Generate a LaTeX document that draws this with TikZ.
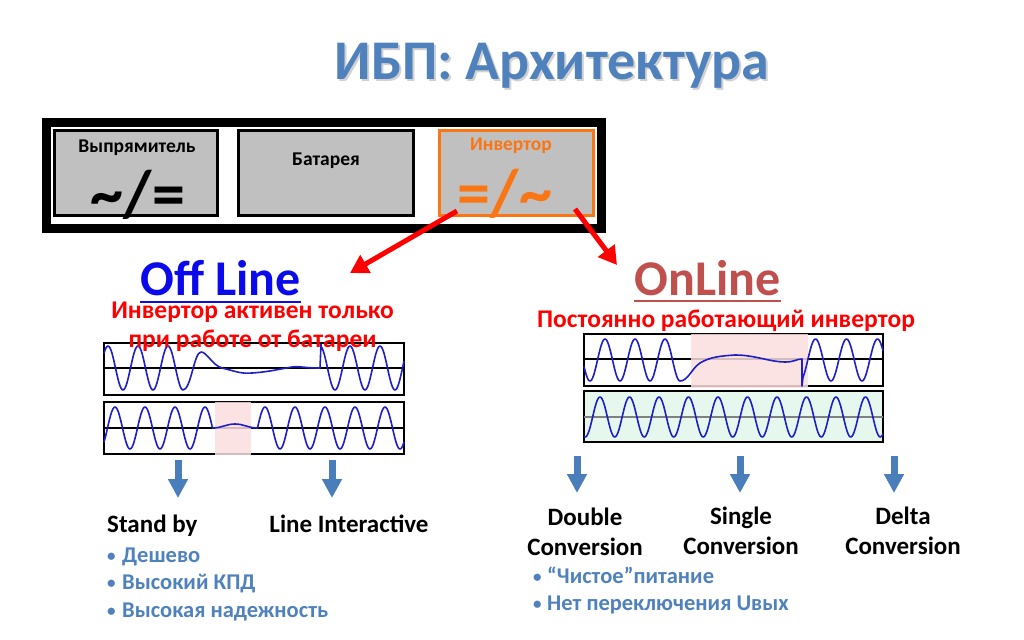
\documentclass[tikz,border=0pt]{standalone}
\usepackage{fontspec}
\setmainfont{Carlito}
\usetikzlibrary{arrows.meta,calc}
\definecolor{titleblue}{RGB}{79,129,189}
\definecolor{boxgray}{RGB}{192,192,192}
\definecolor{invorange}{RGB}{250,118,20}
\definecolor{offblue}{RGB}{10,10,235}
\definecolor{onrose}{RGB}{192,80,77}
\definecolor{wavecol}{RGB}{30,30,200}
\definecolor{pinkfill}{RGB}{250,222,222}
\definecolor{greenfill}{RGB}{230,248,238}
\definecolor{arrowblue}{RGB}{74,126,187}
\begin{document}
\begin{tikzpicture}[x=1pt,y=-1pt,
  txt/.style={inner sep=0pt, anchor=base, font=\bfseries},
  unitbox/.style={draw=black, line width=3pt, fill=boxgray},
  wbox/.style={draw=black, line width=1.6pt},
  wave/.style={draw=wavecol, line width=1.6pt, line join=round},
  midline/.style={draw=black, line width=1.2pt},
  rarrow/.style={draw=red, line width=5pt, -{Triangle[width=20pt,length=18pt]}},
  barrow/.style={draw=arrowblue, line width=7pt, -{Triangle[width=19pt,length=19pt]}},
  bul/.style={inner sep=0pt, anchor=base west, text=titleblue, font=\bfseries\fontsize{22.5}{26}\selectfont},
  dot/.style={inner sep=0pt, anchor=base west, text=titleblue, font=\bfseries\fontsize{17}{20}\selectfont}
]
\useasboundingbox (0,0) rectangle (1024,639);
% title
\node[txt, text=black, opacity=0.18, font=\bfseries\fontsize{56}{64}\selectfont] at (554,82) {ИБП: Архитектура};
\node[txt, text=titleblue, font=\bfseries\fontsize{56}{64}\selectfont] (title) at (552,80) {ИБП: Архитектура};
% outer frame
\draw[line width=9pt] (46.5,122.5) rectangle (601,228.5);
\draw[unitbox] (54,131) rectangle (217,215);
\draw[unitbox] (238,131) rectangle (413,215);
\draw[unitbox, draw=invorange] (439,131) rectangle (593,215);
\node[txt, font=\bfseries\fontsize{19.5}{22}\selectfont] (rect) at (137,153) {Выпрямитель};
\node[txt, font=\bfseries\fontsize{66}{70}\selectfont] (rsym) at (138,216) {\~{}/=};
\node[txt, font=\bfseries\fontsize{19.5}{22}\selectfont] (bat) at (326,166) {Батарея};
\node[txt, text=invorange, font=\bfseries\fontsize{19.5}{22}\selectfont] (inv) at (511,151) {Инвертор};
\node[txt, text=invorange, font=\bfseries\fontsize{66}{70}\selectfont] (isym) at (505,215) {=/\~{}};
% red arrows
\coordinate (invL) at (457,211);
\coordinate (offT) at (350,273);
\coordinate (invR) at (575,209);
\coordinate (onT) at (617,265);
\draw[rarrow] (invL) -- (offT);
\draw[rarrow] (invR) -- (onT);
% Off Line
\node[txt, text=offblue, font=\bfseries\fontsize{50}{56}\selectfont] (offline) at (220.5,295) {Off Line};
\draw[offblue, line width=2.5pt] ($(offline.base west)+(0,7)$) -- ($(offline.base east)+(0,7)$);
% OnLine
\node[txt, text=onrose, font=\bfseries\fontsize{50}{56}\selectfont] (online) at (707.5,295) {OnLine};
\draw[onrose, line width=2.5pt] ($(online.base west)+(0,6)$) -- ($(online.base east)+(0,6)$);
% Off Line waveforms
\draw[wbox] (104,343) rectangle (404,395);
\draw[midline] (104,368) -- (404,368);
\draw[wave] plot[domain=104:183, samples=80] (\x,{368-22*cos(12*(\x-108))})
  .. controls (191,390) and (194,352) .. (201,352)
  .. controls (207,352) and (212,365) .. (222,368)
  .. controls (235,371) and (240,374) .. (252,373)
  .. controls (268,372) and (280,369) .. (292,367)
  .. controls (300,366) and (305,368) .. (318,368) -- (320,368) -- (321,344)
  -- plot[domain=321:404, samples=80] (\x,{368+22*cos(12*(\x-335))});
\draw[wbox] (104,402) rectangle (404,454);
\draw[midline] (104,428) -- (404,428);
\fill[pinkfill, opacity=0.85] (215,402) rectangle (251,455);
\draw[wave] plot[domain=104:212.5, samples=100] (\x,{428-21*cos(12*(\x-115))})
  .. controls (222,428) and (226,424) .. (235,424)
  .. controls (244,424) and (248,428) .. (257.5,428)
  -- plot[domain=257.5:404, samples=130] (\x,{428-21*cos(12*(\x-265))});
\node[txt, text=red, align=center, font=\bfseries\fontsize{25.5}{29}\selectfont] (offtxt) at (252.5,347) {Инвертор активен только\\при работе от батареи};
% OnLine waveforms
\node[txt, text=red, font=\bfseries\fontsize{25.5}{29}\selectfont] (ontxt) at (726,327) {Постоянно работающий инвертор};
\draw[wbox] (584,334) rectangle (883,386);
\draw[midline] (584,359) -- (883,359);
\fill[pinkfill, opacity=0.85] (691,334) rectangle (808,388);
\draw[wave] plot[domain=584:680, samples=90] (\x,{360-21*cos(12*(\x-605))})
  .. controls (688,381) and (692,368) .. (700,363)
  .. controls (710,357) and (720,356) .. (735,355)
  .. controls (755,355) and (770,362) .. (785,362)
  .. controls (795,362) and (796,359) .. (802,359) -- (802,386)
  -- plot[domain=803:883, samples=80] (\x,{360+21*cos(11.6129*(\x-800))});
\draw[wbox, fill=greenfill] (584,391) rectangle (883,442);
\draw[draw=gray, line width=1.2pt] (584,417) -- (883,417);
\draw[wave] plot[domain=584:883, samples=300] (\x,{417-20*cos(12.2034*(\x-600))});
% blue arrows
\coordinate (a1s) at (178,460); \coordinate (a1e) at (178,498);
\coordinate (a2s) at (332,460); \coordinate (a2e) at (332,498);
\coordinate (a3s) at (577,456); \coordinate (a3e) at (577,493);
\coordinate (a4s) at (740,456); \coordinate (a4e) at (740,493);
\coordinate (a5s) at (894,456); \coordinate (a5e) at (894,493);
\draw[barrow] (a1s) -- (a1e);
\draw[barrow] (a2s) -- (a2e);
\draw[barrow] (a3s) -- (a3e);
\draw[barrow] (a4s) -- (a4e);
\draw[barrow] (a5s) -- (a5e);
% labels
\node[txt, anchor=base west, font=\bfseries\fontsize{25}{30}\selectfont] (standby) at (107,532) {Stand by};
\node[txt, font=\bfseries\fontsize{25}{30}\selectfont] (lineint) at (349,532) {Line Interactive};
\node[txt, align=center, font=\bfseries\fontsize{25}{30}\selectfont] (dbl) at (585,555) {Double\\Conversion};
\node[txt, align=center, font=\bfseries\fontsize{25}{30}\selectfont] (sgl) at (741,554) {Single\\Conversion};
\node[txt, align=center, font=\bfseries\fontsize{25}{30}\selectfont] (dlt) at (903,554) {Delta\\Conversion};
% bullets
\node[dot] (b1) at (107,561) {•};
\node[bul] (t1) at (122,562) {Дешево};
\node[dot] (b2) at (107,588) {•};
\node[bul] (t2) at (122,589) {Высокий КПД};
\node[dot] (b3) at (107,616) {•};
\node[bul] (t3) at (122,617) {Высокая надежность};
\node[dot] (b4) at (533,582) {•};
\node[bul] (t4) at (547,583) {“Чистое”питание};
\node[dot] (b5) at (533,609) {•};
\node[bul] (t5) at (547,610) {Нет переключения Uвых};
\end{tikzpicture}
\end{document}
